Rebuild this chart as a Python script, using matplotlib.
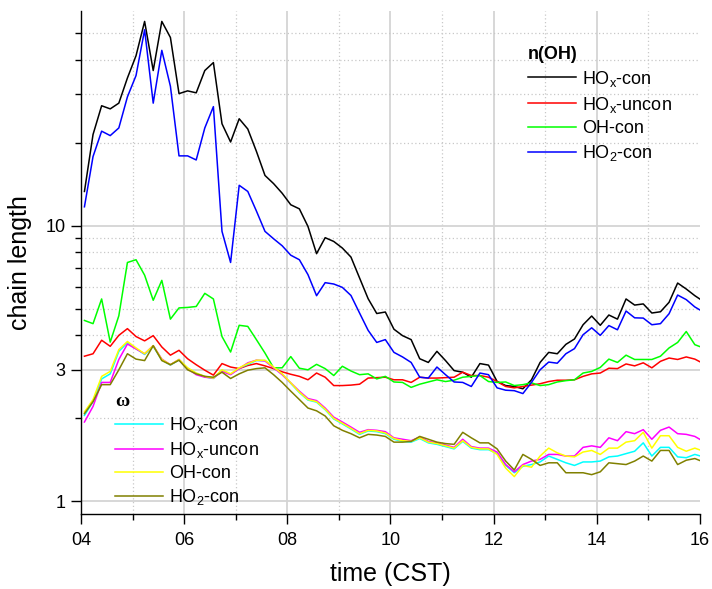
import numpy as np
import matplotlib
matplotlib.use('Agg')
import matplotlib.pyplot as plt
from matplotlib.ticker import FixedLocator, NullFormatter, FuncFormatter

plt.rcParams['font.family'] = ['Liberation Sans', 'DejaVu Sans']

# 10-minute samples, 04:04 to 16:04 CST
hours = 4 + 4 / 60 + np.arange(73) / 6

# n(OH) chain lengths
hox_con = [13.3, 21.4, 27.2, 26.5, 27.8, 34.3, 41.3, 55.0, 36.5, 55.0, 48.1, 30.1, 30.8, 30.3, 36.5, 39.0,
           23.4, 20.1, 24.4, 22.4, 18.6, 15.2, 14.2, 13.1, 11.9, 11.5, 9.93, 7.91, 9.04, 8.76, 8.29, 7.69,
           6.46, 5.43, 4.80, 4.86, 4.21, 3.99, 3.86, 3.29, 3.19, 3.50, 3.24, 2.98, 2.94, 2.82, 3.16, 3.12,
           2.72, 2.63, 2.61, 2.56, 2.76, 3.19, 3.47, 3.43, 3.71, 3.88, 4.37, 4.70, 4.35, 4.74, 4.58, 5.42,
           5.15, 5.20, 4.82, 4.87, 5.27, 6.19, 5.89, 5.57, 5.31]
hox_uncon = [3.36, 3.43, 3.84, 3.65, 4.00, 4.23, 3.96, 3.82, 3.99, 3.63, 3.39, 3.53, 3.29, 3.13, 2.99, 2.87,
             3.16, 3.07, 3.03, 3.11, 3.16, 3.10, 3.03, 2.95, 2.89, 2.84, 2.76, 2.92, 2.82, 2.63, 2.63, 2.64,
             2.66, 2.80, 2.81, 2.82, 2.76, 2.76, 2.70, 2.82, 2.80, 2.80, 2.81, 2.82, 2.94, 2.86, 2.86, 2.82,
             2.72, 2.61, 2.58, 2.61, 2.64, 2.67, 2.72, 2.75, 2.75, 2.76, 2.84, 2.90, 2.92, 3.04, 3.03, 3.15,
             3.10, 3.18, 3.05, 3.22, 3.31, 3.27, 3.34, 3.28, 3.16]
oh_con = [4.53, 4.41, 5.42, 3.78, 4.71, 7.35, 7.52, 6.61, 5.36, 6.33, 4.58, 5.03, 5.05, 5.09, 5.68, 5.42,
          3.96, 3.48, 4.35, 4.31, 3.86, 3.45, 3.05, 3.05, 3.35, 3.04, 3.00, 3.14, 3.03, 2.86, 3.09, 2.97,
          2.88, 2.90, 2.78, 2.84, 2.71, 2.70, 2.59, 2.66, 2.71, 2.76, 2.72, 2.75, 2.82, 2.84, 2.86, 2.72,
          2.70, 2.71, 2.63, 2.65, 2.69, 2.63, 2.65, 2.71, 2.74, 2.76, 2.92, 2.96, 3.06, 3.28, 3.19, 3.39,
          3.27, 3.27, 3.27, 3.36, 3.60, 3.77, 4.13, 3.70, 3.60]
ho2_con = [11.7, 17.8, 22.0, 21.2, 22.6, 29.3, 35.0, 51.3, 27.8, 43.2, 32.0, 17.9, 17.9, 17.3, 22.6, 27.0,
           9.53, 7.35, 14.0, 13.3, 11.3, 9.53, 8.96, 8.45, 7.81, 7.52, 6.64, 5.57, 6.21, 6.14, 5.97, 5.58,
           4.82, 4.17, 3.77, 3.86, 3.47, 3.34, 3.19, 2.82, 2.80, 3.07, 2.88, 2.71, 2.70, 2.61, 2.92, 2.88,
           2.58, 2.53, 2.52, 2.46, 2.70, 3.00, 3.20, 3.17, 3.43, 3.58, 4.02, 4.26, 4.00, 4.34, 4.19, 4.90,
           4.63, 4.62, 4.37, 4.41, 4.79, 5.60, 5.39, 5.07, 4.86]

# omega
w_hox_con = [2.05, 2.30, 2.78, 2.90, 3.50, 3.76, 3.58, 3.41, 3.65, 3.26, 3.12, 3.26, 3.04, 2.91, 2.83, 2.79,
             2.99, 2.89, 3.04, 3.14, 3.24, 3.24, 3.06, 2.89, 2.68, 2.48, 2.33, 2.29, 2.15, 1.99, 1.91, 1.83,
             1.75, 1.80, 1.79, 1.76, 1.68, 1.65, 1.64, 1.69, 1.63, 1.61, 1.58, 1.55, 1.65, 1.56, 1.54, 1.54,
             1.49, 1.35, 1.27, 1.34, 1.36, 1.39, 1.46, 1.42, 1.38, 1.35, 1.39, 1.39, 1.40, 1.45, 1.46, 1.49,
             1.52, 1.63, 1.46, 1.57, 1.57, 1.45, 1.44, 1.48, 1.45]
w_hox_uncon = [1.94, 2.21, 2.70, 2.70, 3.27, 3.72, 3.57, 3.43, 3.67, 3.28, 3.13, 3.27, 3.03, 2.88, 2.82, 2.80,
               2.96, 2.88, 3.03, 3.18, 3.25, 3.23, 3.05, 2.88, 2.69, 2.51, 2.36, 2.32, 2.18, 2.02, 1.94, 1.86,
               1.78, 1.82, 1.81, 1.79, 1.70, 1.68, 1.66, 1.71, 1.65, 1.63, 1.60, 1.57, 1.68, 1.58, 1.56, 1.56,
               1.51, 1.36, 1.28, 1.36, 1.40, 1.42, 1.48, 1.48, 1.46, 1.46, 1.57, 1.59, 1.57, 1.70, 1.66, 1.79,
               1.76, 1.82, 1.68, 1.81, 1.86, 1.76, 1.75, 1.72, 1.65]
w_oh_con = [2.11, 2.34, 2.84, 2.96, 3.55, 3.80, 3.60, 3.43, 3.67, 3.27, 3.13, 3.27, 3.05, 2.92, 2.84, 2.80,
            3.00, 2.90, 3.05, 3.16, 3.25, 3.25, 3.07, 2.90, 2.69, 2.49, 2.34, 2.30, 2.16, 2.00, 1.92, 1.84,
            1.76, 1.81, 1.80, 1.77, 1.69, 1.66, 1.65, 1.70, 1.64, 1.62, 1.59, 1.56, 1.66, 1.57, 1.55, 1.55,
            1.48, 1.32, 1.23, 1.35, 1.33, 1.46, 1.56, 1.50, 1.46, 1.45, 1.51, 1.53, 1.48, 1.56, 1.56, 1.64,
            1.66, 1.78, 1.56, 1.73, 1.73, 1.57, 1.52, 1.56, 1.52]
w_ho2_con = [2.08, 2.30, 2.65, 2.65, 3.00, 3.43, 3.28, 3.24, 3.67, 3.24, 3.13, 3.25, 3.00, 2.90, 2.84, 2.82,
             2.94, 2.79, 2.90, 2.99, 3.03, 3.05, 2.88, 2.70, 2.51, 2.34, 2.18, 2.13, 2.04, 1.88, 1.81, 1.76,
             1.70, 1.75, 1.74, 1.72, 1.64, 1.64, 1.65, 1.72, 1.68, 1.64, 1.62, 1.61, 1.78, 1.70, 1.63, 1.63,
             1.55, 1.40, 1.30, 1.48, 1.42, 1.35, 1.38, 1.38, 1.27, 1.27, 1.27, 1.25, 1.28, 1.38, 1.37, 1.36,
             1.40, 1.46, 1.40, 1.53, 1.53, 1.36, 1.41, 1.43, 1.39]

n_series = [('HO$_\\mathregular{x}$-con', hox_con, '#000000'),
            ('HO$_\\mathregular{x}$-uncon', hox_uncon, '#ff0000'),
            ('OH-con', oh_con, '#00ff00'),
            ('HO$_\\mathregular{2}$-con', ho2_con, '#0000ff')]
w_series = [('HO$_\\mathregular{x}$-con', w_hox_con, '#00ffff'),
            ('HO$_\\mathregular{x}$-uncon', w_hox_uncon, '#ff00ff'),
            ('OH-con', w_oh_con, '#ffff00'),
            ('HO$_\\mathregular{2}$-con', w_ho2_con, '#808000')]

fig = plt.figure(figsize=(7.12, 5.89), dpi=100)
ax = fig.add_axes([81 / 712, 1 - 514 / 589, 619 / 712, 503 / 589])

n_lines = []
for label, vals, col in n_series:
    ln, = ax.plot(hours, vals, color=col, lw=1.1, label=label, zorder=3)
    n_lines.append(ln)
w_lines = []
for label, vals, col in w_series:
    ln, = ax.plot(hours, vals, color=col, lw=1.1, label=label, zorder=3)
    w_lines.append(ln)

ax.set_yscale('log')
ax.set_ylim(0.9, 60)
ax.set_xlim(4, 16)

ax.yaxis.set_major_locator(FixedLocator([1, 3, 10]))
ax.yaxis.set_minor_locator(FixedLocator([2, 4, 5, 6, 7, 8, 9, 20, 30, 40, 50]))
ax.yaxis.set_major_formatter(FuncFormatter(lambda v, p: '%d' % v))
ax.yaxis.set_minor_formatter(NullFormatter())
ax.xaxis.set_major_locator(FixedLocator([4, 6, 8, 10, 12, 14, 16]))
ax.xaxis.set_minor_locator(FixedLocator([5, 7, 9, 11, 13, 15]))
ax.xaxis.set_major_formatter(FuncFormatter(lambda v, p: '%02d' % v))

ax.grid(True, which='major', color='#d4d4d4', lw=1.3, ls='-', zorder=0)
ax.grid(True, which='minor', color='#c8c8c8', lw=0.9, ls=(0, (1, 2)), zorder=0)
ax.get_xgridlines()[-1].set_visible(False)
ax.get_xgridlines()[0].set_visible(False)

for s in ['top', 'right']:
    ax.spines[s].set_visible(False)
ax.spines['left'].set_linewidth(1.0)
ax.spines['bottom'].set_linewidth(1.0)
ax.tick_params(which='major', direction='out', length=7, width=1.0, labelsize=13, pad=4)
ax.tick_params(axis='x', which='major', pad=6)
ax.tick_params(which='minor', direction='out', length=4, width=1.0)

ax.set_xlabel('time (CST)', fontsize=18, labelpad=9)
ax.set_ylabel('chain length', fontsize=18, labelpad=10)

leg1 = ax.legend(handles=n_lines, title='n(OH)', loc='upper left',
                 bbox_to_anchor=(528 / 712, 1 - 46 / 589), bbox_transform=fig.transFigure,
                 frameon=False, fontsize=13, handlelength=2.65, handletextpad=0.35,
                 labelspacing=0.32, borderpad=0, borderaxespad=0, alignment='left',
                 title_fontproperties={'weight': 'bold', 'size': 13})
ax.add_artist(leg1)
leg2 = ax.legend(handles=w_lines, title='\u03c9', loc='upper left',
                 bbox_to_anchor=(115 / 712, 1 - 393 / 589), bbox_transform=fig.transFigure,
                 frameon=False, fontsize=13, handlelength=2.65, handletextpad=0.35,
                 labelspacing=0.28, borderpad=0, borderaxespad=0, alignment='left',
                 title_fontproperties={'weight': 'bold', 'size': 14, 'family': 'Liberation Serif'})

fig.savefig('out.png', dpi=100)
